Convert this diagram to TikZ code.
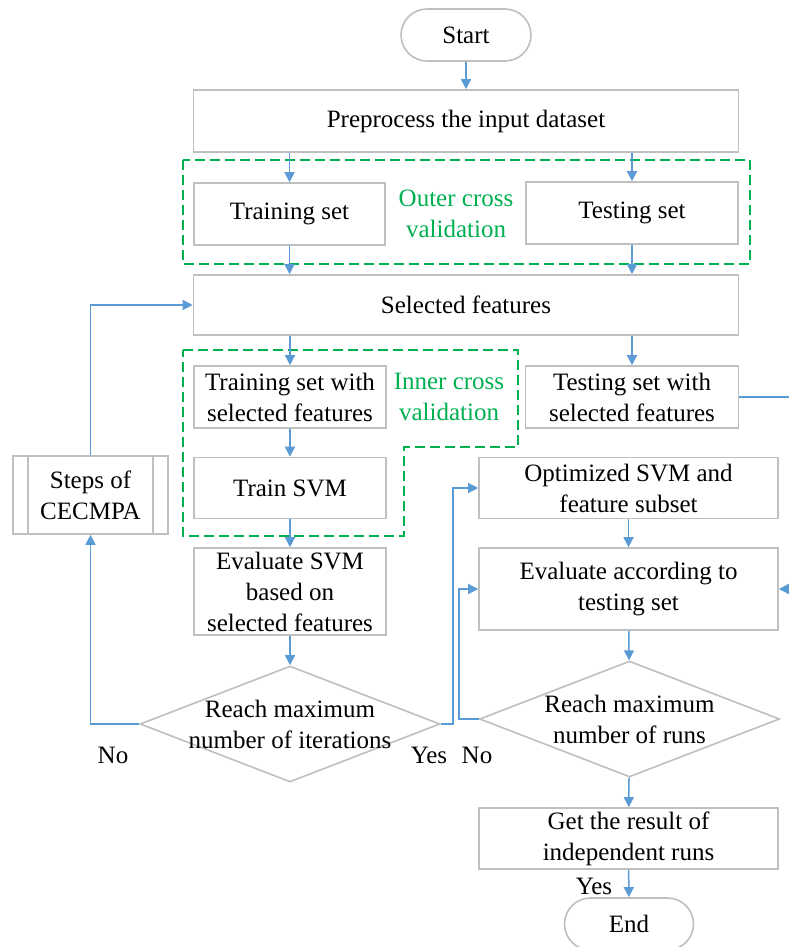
\documentclass[tikz,border=0pt]{standalone}
\usepackage{fontspec}
\setmainfont{Liberation Serif}
\usetikzlibrary{arrows.meta,shapes.geometric}

\definecolor{linegray}{RGB}{191,191,191}
\definecolor{flowblue}{RGB}{91,155,213}
\definecolor{cvgreen}{RGB}{0,176,80}

\tikzset{
  box/.style={draw=linegray, line width=1.6pt, fill=white, rectangle, inner sep=0pt, align=center, font=\fontsize{25}{31}\selectfont},
  terminal/.style={box, rounded corners=26pt, minimum width=130pt, minimum height=52pt},
  decision/.style={draw=linegray, line width=1.6pt, fill=white, diamond, aspect=2.6, inner sep=0pt, minimum width=300pt, minimum height=116pt},
  arr/.style={draw=flowblue, line width=1.5pt, -{Triangle[length=10pt,width=10pt]}},
  cvbox/.style={draw=cvgreen, line width=1.6pt, dash pattern=on 10pt off 5pt},
  cvtext/.style={text=cvgreen, align=center, font=\fontsize{25}{31}\selectfont},
  tag/.style={align=center, font=\fontsize{25}{31}\selectfont}
}

\begin{document}
\begin{tikzpicture}[x=1pt, y=-1pt]
\useasboundingbox (0,0) rectangle (789,947);

\draw [cvbox] (183,160) rectangle (750,264);
\draw [cvbox] (183,350) -- (518,350) -- (518,447) -- (404,447) -- (404,536) -- (183,536) -- cycle;

\node [terminal] (start) at (466,35) {Start};
\node [box, minimum width=545pt, minimum height=62pt] (prep) at (466,121) {Preprocess the input dataset};
\node [box, minimum width=191pt, minimum height=62pt] (train) at (289.5,214) {Training set};
\node [box, minimum width=212pt, minimum height=62pt] (test) at (632,213) {Testing set};
\node [cvtext] (outer) at (456,214) {Outer cross\\validation};
\node [box, minimum width=545pt, minimum height=60pt] (sel) at (466,305) {Selected features};

\node [box, minimum width=192pt, minimum height=62pt] (trainsel) at (290,397) {Training set with\\selected features};
\node [cvtext] (inner) at (449,397) {Inner cross\\validation};
\node [box, minimum width=213pt, minimum height=62pt] (testsel) at (632,397) {Testing set with\\selected features};
\node [box, minimum width=192pt, minimum height=61pt] (svm) at (290,488) {Train SVM};
\node [box, minimum width=192pt, minimum height=87pt] (evalsvm) at (290,591.5) {Evaluate SVM\\based on\\selected features};
\node [decision, label={[tag]center:{Reach maximum\\number of iterations}}] (iter) at (290,724) {};

\node [box, minimum width=155pt, minimum height=78pt] (steps) at (90.5,495) {Steps of\\CECMPA};
\draw [draw=linegray, line width=1.6pt] ([xshift=16pt]steps.north west) -- ([xshift=16pt]steps.south west);
\draw [draw=linegray, line width=1.6pt] ([xshift=-16pt]steps.north east) -- ([xshift=-16pt]steps.south east);

\node [box, minimum width=299pt, minimum height=61pt] (opt) at (628.5,488) {Optimized SVM and\\feature subset};
\node [box, minimum width=299pt, minimum height=82pt] (evaltest) at (628.5,589) {Evaluate according to\\testing set};
\node [decision, label={[tag]center:{Reach maximum\\number of runs}}] (runs) at (629.5,719) {};
\node [box, minimum width=299pt, minimum height=61pt] (result) at (628.5,838.5) {Get the result of\\independent runs};
\node [terminal, minimum width=129pt] (end) at (629,924) {End};

\node [tag] (nofirst) at (113,755) {No};
\node [tag] (yesfirst) at (429,755) {Yes};
\node [tag] (nosecond) at (477,755) {No};
\node [tag] (yessecond) at (594,886) {Yes};

\coordinate (yesturn) at (453,724);
\coordinate (noturn) at (459,719);
\coordinate (rightturn) at (800,397);

\draw [arr] (start) -- (prep);
\draw [arr] (prep.south -| train) -- (train.north);
\draw [arr] (prep.south -| test) -- (test.north);
\draw [arr] (train.south) -- (train.south |- sel.north);
\draw [arr] (test.south) -- (test.south |- sel.north);
\draw [arr] (sel.south -| trainsel) -- (trainsel.north);
\draw [arr] (sel.south -| testsel) -- (testsel.north);
\draw [arr] (trainsel) -- (svm);
\draw [arr] (svm) -- (evalsvm);
\draw [arr] (evalsvm) -- (iter);
\draw [arr] (iter.west) -| (steps.south);
\draw [arr] (steps.north) |- (sel.west);
\draw [arr] (iter.east) -- (yesturn) |- (opt.west);
\draw [arr] (testsel.east) -- (rightturn) |- (evaltest.east);
\draw [arr] (opt) -- (evaltest);
\draw [arr] (evaltest) -- (runs);
\draw [arr] (runs.west) -- (noturn) |- (evaltest.west);
\draw [arr] (runs) -- (result);
\draw [arr] (result) -- (end);
\end{tikzpicture}
\end{document}
